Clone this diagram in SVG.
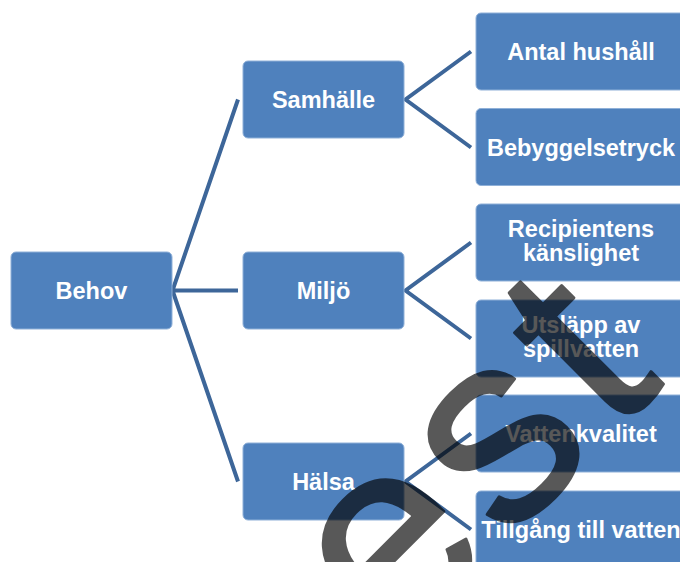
<svg xmlns="http://www.w3.org/2000/svg" width="680" height="562" viewBox="0 0 680 562">
<style>
.box{fill:#4f81bd;stroke:#8fb0d8;stroke-width:1}
.lbl{font-family:"Liberation Sans",Arial,sans-serif;font-weight:bold;font-size:23.5px;fill:#fff;text-anchor:middle}
.con{stroke:#3d6699;stroke-width:4;fill:none;stroke-linejoin:miter}
.wm{font-family:"Liberation Sans",Arial,sans-serif;font-size:270px;fill:#000;stroke:#000;stroke-width:3;stroke-linejoin:round;font-kerning:none}
</style>
<rect width="680" height="562" fill="#fff"/>
<g id="connectors">
<path class="con" d="M238,99.5 L172.5,290.5 L238,290.5 M172.5,290.5 L238,481.5"/>
<path class="con" d="M471,51.5 L405.5,99.5 L471,147.5"/>
<path class="con" d="M471,242.5 L405.5,290.5 L471,338.5"/>
<path class="con" d="M471,433.5 L405.5,481.5 L471,529.5"/>
</g>
<g id="behov"><rect class="box" x="11" y="252" width="161" height="77" rx="5"/><text class="lbl" x="91.5" y="299">Behov</text></g>
<g id="samhalle"><rect class="box" x="243" y="61" width="161" height="77" rx="5"/><text class="lbl" x="323.5" y="108">Samhälle</text></g>
<g id="miljo"><rect class="box" x="243" y="252" width="161" height="77" rx="5"/><text class="lbl" x="323.5" y="299">Miljö</text></g>
<g id="halsa"><rect class="box" x="243" y="443" width="161" height="77" rx="5"/><text class="lbl" x="323.5" y="490">Hälsa</text></g>
<g id="antal"><rect class="box" x="476" y="13" width="210" height="77" rx="5"/><text class="lbl" x="581" y="60">Antal hushåll</text></g>
<g id="bebyggelse"><rect class="box" x="476" y="108.5" width="210" height="77" rx="5"/><text class="lbl" x="581" y="155.5">Bebyggelsetryck</text></g>
<g id="recipientens"><rect class="box" x="476" y="204" width="210" height="77" rx="5"/><text class="lbl" x="581" y="237">Recipientens<tspan x="581" dy="23.5">känslighet</tspan></text></g>
<g id="utslapp"><rect class="box" x="476" y="300" width="210" height="77" rx="5"/><text class="lbl" x="581" y="332.5">Utsläpp av<tspan x="581" dy="24.5">spillvatten</tspan></text></g>
<g id="vattenkvalitet"><rect class="box" x="476" y="395" width="210" height="77" rx="5"/><text class="lbl" x="581" y="442">Vattenkvalitet</text></g>
<g id="tillgang"><rect class="box" x="476" y="491" width="210" height="77" rx="5"/><text class="lbl" x="581" y="538">Tillgång till vatten</text></g>
<g opacity="0.65"><text class="wm" transform="translate(524.5,524.5) rotate(-45)" x="-430 -186 -26.8 124.5" y="0">Test</text></g>
</svg>
